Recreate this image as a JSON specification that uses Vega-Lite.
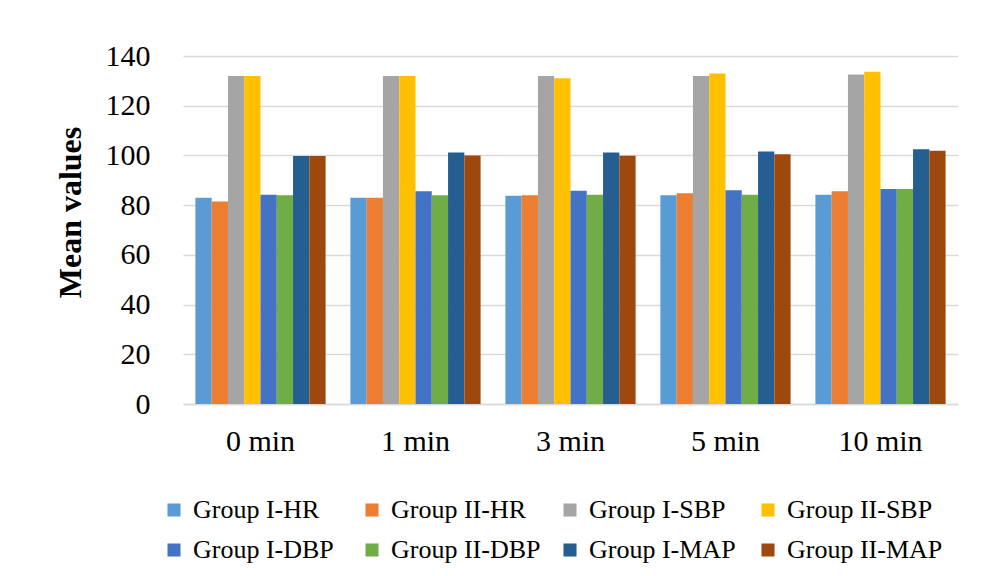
{
  "$schema": "https://vega.github.io/schema/vega-lite/v6.json",
  "autosize": "none",
  "width": 775,
  "height": 348,
  "padding": {"left": 183, "top": 56, "right": 41, "bottom": 172},
  "background": "white",
  "config": {
    "font": "Liberation Serif",
    "view": {"stroke": null}
  },
  "data": {
    "values": [
      {"time": "0 min", "series": "Group I-HR", "value": 83},
      {"time": "0 min", "series": "Group II-HR", "value": 81.5},
      {"time": "0 min", "series": "Group I-SBP", "value": 132},
      {"time": "0 min", "series": "Group II-SBP", "value": 132},
      {"time": "0 min", "series": "Group I-DBP", "value": 84.2},
      {"time": "0 min", "series": "Group II-DBP", "value": 84},
      {"time": "0 min", "series": "Group I-MAP", "value": 99.8},
      {"time": "0 min", "series": "Group II-MAP", "value": 99.8},
      {"time": "1 min", "series": "Group I-HR", "value": 83},
      {"time": "1 min", "series": "Group II-HR", "value": 83},
      {"time": "1 min", "series": "Group I-SBP", "value": 132},
      {"time": "1 min", "series": "Group II-SBP", "value": 132},
      {"time": "1 min", "series": "Group I-DBP", "value": 85.6},
      {"time": "1 min", "series": "Group II-DBP", "value": 84},
      {"time": "1 min", "series": "Group I-MAP", "value": 101.2},
      {"time": "1 min", "series": "Group II-MAP", "value": 100},
      {"time": "3 min", "series": "Group I-HR", "value": 83.8},
      {"time": "3 min", "series": "Group II-HR", "value": 84},
      {"time": "3 min", "series": "Group I-SBP", "value": 132},
      {"time": "3 min", "series": "Group II-SBP", "value": 131},
      {"time": "3 min", "series": "Group I-DBP", "value": 85.8},
      {"time": "3 min", "series": "Group II-DBP", "value": 84.2},
      {"time": "3 min", "series": "Group I-MAP", "value": 101.2},
      {"time": "3 min", "series": "Group II-MAP", "value": 99.9},
      {"time": "5 min", "series": "Group I-HR", "value": 84},
      {"time": "5 min", "series": "Group II-HR", "value": 84.8},
      {"time": "5 min", "series": "Group I-SBP", "value": 132},
      {"time": "5 min", "series": "Group II-SBP", "value": 133},
      {"time": "5 min", "series": "Group I-DBP", "value": 86},
      {"time": "5 min", "series": "Group II-DBP", "value": 84.2},
      {"time": "5 min", "series": "Group I-MAP", "value": 101.6},
      {"time": "5 min", "series": "Group II-MAP", "value": 100.5},
      {"time": "10 min", "series": "Group I-HR", "value": 84.2},
      {"time": "10 min", "series": "Group II-HR", "value": 85.6},
      {"time": "10 min", "series": "Group I-SBP", "value": 132.6},
      {"time": "10 min", "series": "Group II-SBP", "value": 133.7},
      {"time": "10 min", "series": "Group I-DBP", "value": 86.5},
      {"time": "10 min", "series": "Group II-DBP", "value": 86.5},
      {"time": "10 min", "series": "Group I-MAP", "value": 102.5},
      {"time": "10 min", "series": "Group II-MAP", "value": 101.9}
    ]
  },
  "mark": {"type": "bar", "stroke": null},
  "encoding": {
    "x": {
      "field": "time",
      "type": "nominal",
      "sort": ["0 min", "1 min", "3 min", "5 min", "10 min"],
      "scale": {"paddingInner": 0.16, "paddingOuter": 0.08},
      "axis": {
        "title": null,
        "labelAngle": 0,
        "labelFontSize": 30,
        "labelColor": "black",
        "labelPadding": 22,
        "ticks": false,
        "domain": true,
        "domainColor": "#D9D9D9",
        "domainWidth": 1.5
      }
    },
    "xOffset": {
      "field": "series",
      "type": "nominal",
      "sort": ["Group I-HR", "Group II-HR", "Group I-SBP", "Group II-SBP", "Group I-DBP", "Group II-DBP", "Group I-MAP", "Group II-MAP"],
      "scale": {"paddingInner": 0, "paddingOuter": 0}
    },
    "y": {
      "field": "value",
      "type": "quantitative",
      "scale": {"domain": [0, 140], "nice": false},
      "axis": {
        "title": "Mean values",
        "titleFontSize": 32,
        "titleFontWeight": "bold",
        "titleColor": "black",
        "titleX": -113,
        "titleY": 156,
        "titleAngle": -90,
        "titleAlign": "center",
        "titleBaseline": "middle",
        "values": [0, 20, 40, 60, 80, 100, 120, 140],
        "labelFontSize": 30,
        "labelColor": "black",
        "labelPadding": 33,
        "ticks": false,
        "domain": false,
        "grid": true,
        "gridColor": "#D9D9D9",
        "gridWidth": 1.5
      }
    },
    "color": {
      "field": "series",
      "type": "nominal",
      "sort": ["Group I-HR", "Group II-HR", "Group I-SBP", "Group II-SBP", "Group I-DBP", "Group II-DBP", "Group I-MAP", "Group II-MAP"],
      "scale": {
        "domain": ["Group I-HR", "Group II-HR", "Group I-SBP", "Group II-SBP", "Group I-DBP", "Group II-DBP", "Group I-MAP", "Group II-MAP"],
        "range": ["#5B9BD5", "#ED7D31", "#A5A5A5", "#FFC000", "#4472C4", "#70AD47", "#255E91", "#9E480E"]
      },
      "legend": {
        "title": null,
        "orient": "none",
        "legendX": -22,
        "legendY": 441,
        "direction": "horizontal",
        "columns": 4,
        "gridAlign": "all",
        "columnPadding": 10,
        "rowPadding": 14,
        "symbolType": "square",
        "symbolSize": 170,
        "symbolStrokeWidth": 0,
        "labelFontSize": 26,
        "labelColor": "black",
        "labelOffset": 6,
        "labelLimit": 300
      }
    }
  }
}
